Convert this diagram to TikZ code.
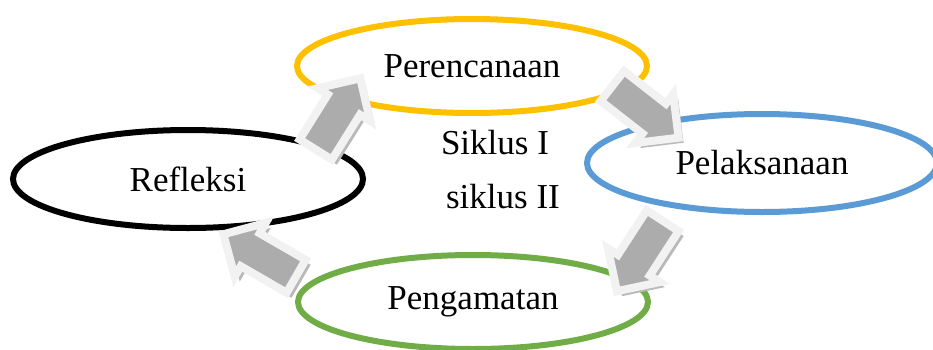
\documentclass[tikz,border=0pt]{standalone}
\usepackage{fontspec}
\setmainfont{Liberation Serif}
\usetikzlibrary{shapes.geometric,shapes.arrows,shadows}

\tikzset{
  stage/.style={ellipse, line width=3pt, minimum width=175pt, minimum height=47pt,
    font=\fontsize{17.5}{21}\selectfont},
  blockarrow/.style={single arrow, draw=gray!10, line width=4pt, fill=gray!65,
    inner sep=7.5pt, minimum height=42pt, single arrow head extend=6pt,
    drop shadow={shadow xshift=2.5pt, shadow yshift=-2.5pt, fill=gray!55, opacity=1}},
  cyclelabel/.style={font=\fontsize{17.5}{21}\selectfont}
}

\begin{document}
\begin{tikzpicture}[x=0.5pt,y=-0.5pt]
\useasboundingbox (0,0) rectangle (933,349);

% tahapan siklus
\node[stage, draw={rgb,255:red,255;green,192;blue,0}] (plan) at (472,66) {Perencanaan};
\node[stage, draw={rgb,255:red,91;green,155;blue,213}, minimum height=49pt] (act) at (762,163) {Pelaksanaan};
\node[stage, draw=black, minimum height=49pt] (reflect) at (188,179) {Refleksi};
\node[stage, draw={rgb,255:red,112;green,173;blue,71}] (observe) at (473,302) {Pengamatan};

% keterangan siklus
\node[cyclelabel] (cycA) at (495,143) {Siklus I};
\node[cyclelabel] (cycB) at (503,197) {siklus II};

% panah blok antar tahapan
\node[blockarrow, rotate=58] (arPlan) at (333,122) {};
\node[blockarrow, rotate=-38] (arAct) at (638,106) {};
\node[blockarrow, rotate=-123] (arObs) at (645,248) {};
\node[blockarrow, rotate=150] (arRef) at (268,260) {};
\end{tikzpicture}
\end{document}
